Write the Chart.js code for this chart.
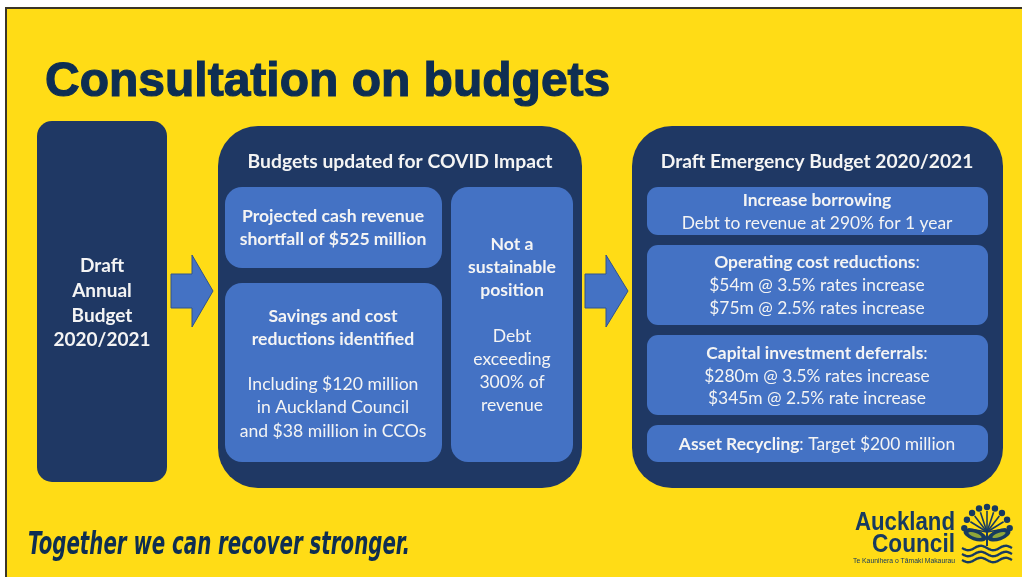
<!DOCTYPE html>
<html>
<head>
<meta charset="utf-8">
<script src="https://cdn.jsdelivr.net/npm/chart.js@4.4.1/dist/chart.umd.min.js"></script>
<style>
  html, body { margin: 0; padding: 0; background: #ffffff; }
  #wrap { width: 1022px; height: 577px; position: relative; }
</style>
</head>
<body>
<div id="wrap"><canvas id="c" width="1022" height="577"></canvas></div>
<script>
// ---------- content (text only) ----------
const slideTitle = "Consultation on budgets";
const leftBoxLines = ["Draft", "Annual", "Budget", "2020/2021"];
const middleTitle = "Budgets updated for COVID Impact";
const shortfallLines = ["**Projected cash revenue**", "**shortfall of $525 million**"];
const savingsLines = ["**Savings and cost**", "**reductions identified**", "Including $120 million", "in Auckland Council", "and $38 million in CCOs"];
const positionLines = ["**Not a**", "**sustainable**", "**position**", "Debt", "exceeding", "300% of", "revenue"];
const rightTitle = "Draft Emergency Budget 2020/2021";
const borrowingLines = ["**Increase borrowing**", "Debt to revenue at 290% for 1 year"];
const operatingLines = ["**Operating cost reductions**:", "$54m @ 3.5% rates increase", "$75m @ 2.5% rates increase"];
const capitalLines = ["**Capital investment deferrals**:", "$280m @ 3.5% rates increase", "$345m @ 2.5% rate increase"];
const assetLines = ["**Asset Recycling**: Target $200 million"];
const footerText = "Together we can recover stronger.";
const logoLines = ["Auckland", "Council"];
const logoSubtitle = "Te Kaunihera o Tāmaki Makaurau";

// ---------- layout & style ----------
const C = {
  yellow: "#FFDC16", navy: "#1F3864", blue: "#4472C4", arrowEdge: "#2F528F",
  white: "#F4F4F4", titleInk: "#0E2E52", logoInk: "#173A60"
};
const FONT = "Lato";

const boxes = [
  { x0: 37, y0: 121, x1: 167, y1: 482, r: 15, fill: C.navy },
  { x0: 218, y0: 126, x1: 582, y1: 488, r: 40, fill: C.navy },
  { x0: 632, y0: 126, x1: 1003, y1: 488, r: 40, fill: C.navy },
  { x0: 225, y0: 187, x1: 442, y1: 268, r: 17, fill: C.blue },
  { x0: 225, y0: 283, x1: 442, y1: 462, r: 17, fill: C.blue },
  { x0: 451, y0: 187, x1: 573, y1: 462, r: 17, fill: C.blue },
  { x0: 647, y0: 187, x1: 988, y1: 235, r: 11, fill: C.blue },
  { x0: 647, y0: 245, x1: 988, y1: 325, r: 11, fill: C.blue },
  { x0: 647, y0: 335, x1: 988, y1: 415, r: 11, fill: C.blue },
  { x0: 647, y0: 425, x1: 988, y1: 462, r: 11, fill: C.blue }
];
const arrows = [
  { x0: 171, xh: 192, x1: 213, cy: 291 },
  { x0: 585, xh: 606, x1: 628, cy: 291 }
];
const textBlocks = [
  { lines: leftBoxLines, cx: 102, y: [272, 297, 322, 346], size: 19, bold: true },
  { lines: [middleTitle], cx: 400, y: [168], size: 19.3, bold: true },
  { lines: shortfallLines, cx: 333, y: [222, 245], size: 17.6 },
  { lines: savingsLines, cx: 333, y: [322, 345, 390, 413, 437], size: 17.6 },
  { lines: positionLines, cx: 512, y: [250, 273, 296, 342, 365, 388, 411], size: 17.6 },
  { lines: [rightTitle], cx: 817, y: [168], size: 19.2, bold: true },
  { lines: borrowingLines, cx: 817, y: [206, 229], size: 17.4 },
  { lines: operatingLines, cx: 817, y: [268, 291, 314], size: 17.4 },
  { lines: capitalLines, cx: 817, y: [359, 382, 404], size: 17.4 },
  { lines: assetLines, cx: 817, y: [450], size: 17.4 }
];

// ---------- drawing plugin (everything positioned through the chart scales) ----------
function parseSegs(line) {
  const parts = line.split("**");
  return parts.map((t, i) => ({ t, b: i % 2 === 1 })).filter(s => s.t.length);
}

const slidePlugin = {
  id: "slide",
  beforeDraw(chart) {
    const ctx = chart.ctx, xs = chart.scales.x, ys = chart.scales.y;
    const X = v => xs.getPixelForValue(v), Y = v => ys.getPixelForValue(v);
    ctx.save();
    // page & frame
    ctx.fillStyle = "#ffffff";
    ctx.fillRect(X(0), Y(0), X(1022) - X(0), Y(577) - Y(0));
    ctx.fillStyle = C.yellow;
    ctx.fillRect(X(6), Y(8), X(1022) - X(6), Y(577) - Y(8));
    ctx.strokeStyle = "#3b3526"; ctx.lineWidth = 2;
    ctx.beginPath(); ctx.moveTo(X(6), Y(577)); ctx.lineTo(X(6), Y(8)); ctx.lineTo(X(1022), Y(8)); ctx.stroke();

    // title
    ctx.fillStyle = C.titleInk; ctx.strokeStyle = C.titleInk; ctx.lineWidth = 1.2;
    ctx.font = "bold 48px 'Liberation Sans'";
    ctx.textBaseline = "alphabetic"; ctx.textAlign = "left";
    ctx.fillText(slideTitle, X(45), Y(96));
    ctx.strokeText(slideTitle, X(45), Y(96));

    // boxes
    boxes.forEach(b => {
      ctx.beginPath();
      ctx.roundRect(X(b.x0), Y(b.y0), X(b.x1) - X(b.x0), Y(b.y1) - Y(b.y0), b.r);
      ctx.fillStyle = b.fill; ctx.fill();
    });

    // arrows
    arrows.forEach(a => {
      ctx.beginPath();
      ctx.moveTo(X(a.x0), Y(a.cy - 17));
      ctx.lineTo(X(a.xh), Y(a.cy - 17));
      ctx.lineTo(X(a.xh), Y(a.cy - 36));
      ctx.lineTo(X(a.x1), Y(a.cy));
      ctx.lineTo(X(a.xh), Y(a.cy + 36));
      ctx.lineTo(X(a.xh), Y(a.cy + 17));
      ctx.lineTo(X(a.x0), Y(a.cy + 17));
      ctx.closePath();
      ctx.fillStyle = C.blue; ctx.fill();
      ctx.strokeStyle = C.arrowEdge; ctx.lineWidth = 1; ctx.stroke();
    });

    // texts
    ctx.fillStyle = C.white; ctx.textAlign = "left";
    textBlocks.forEach(tb => {
      tb.lines.forEach((line, i) => {
        const segs = parseSegs(tb.bold ? "**" + line.replace(/\*\*/g, "") + "**" : line);
        let w = 0;
        segs.forEach(s => { ctx.font = (s.b ? "bold " : "") + tb.size + "px " + FONT; s.w = ctx.measureText(s.t).width; w += s.w; });
        let x = X(tb.cx) - w / 2;
        segs.forEach(s => { ctx.font = (s.b ? "bold " : "") + tb.size + "px " + FONT; ctx.fillText(s.t, x, Y(tb.y[i])); x += s.w; });
      });
    });

    // footer slogan (script-like)
    ctx.fillStyle = C.titleInk;
    ctx.font = "italic bold 32px 'DejaVu Sans Condensed'";
    const fw = ctx.measureText(footerText).width;
    ctx.save();
    ctx.translate(X(28), Y(554));
    ctx.scale((X(410) - X(28)) / fw, 1);
    ctx.fillText(footerText, 0, 0);
    ctx.restore();

    // logo text
    ctx.fillStyle = C.logoInk; ctx.textAlign = "left";
    ctx.font = "bold 25px 'Liberation Sans'";
    [[logoLines[0], 855, 955, 530], [logoLines[1], 872, 955, 552]].forEach(([t, l, r, by]) => {
      const w = ctx.measureText(t).width;
      ctx.save(); ctx.translate(X(l), Y(by)); ctx.scale((X(r) - X(l)) / w, 1); ctx.fillText(t, 0, 0); ctx.restore();
    });
    ctx.font = "6.5px 'Liberation Sans'";
    const sw = ctx.measureText(logoSubtitle).width;
    ctx.save(); ctx.translate(X(853), Y(563)); ctx.scale((X(955) - X(853)) / sw, 1); ctx.fillText(logoSubtitle, 0, 0); ctx.restore();

    // logo emblem
    const cx = X(987), cy = Y(532);
    ctx.strokeStyle = C.logoInk; ctx.fillStyle = C.logoInk; ctx.lineWidth = 1.6;
    for (let k = 0; k < 9; k++) {
      const ang = Math.PI * (1.05 + 0.9 * k / 8);
      const ex = cx + Math.cos(ang) * 23, ey = cy + Math.sin(ang) * 25;
      ctx.beginPath(); ctx.moveTo(cx, cy); ctx.lineTo(cx + Math.cos(ang) * 19, cy + Math.sin(ang) * 21); ctx.stroke();
      ctx.beginPath(); ctx.arc(ex, ey, 3.2, 0, Math.PI * 2); ctx.fill();
    }
    ctx.beginPath(); ctx.moveTo(cx, cy); ctx.lineTo(cx, Y(546)); ctx.lineWidth = 2; ctx.stroke();
    [[-1], [1]].forEach(([s]) => {
      ctx.save(); ctx.translate(cx + s * 12, Y(535)); ctx.rotate(s * -0.35);
      ctx.beginPath(); ctx.ellipse(0, 0, 12, 5.5, 0, 0, Math.PI * 2); ctx.fillStyle = C.logoInk; ctx.fill();
      ctx.beginPath(); ctx.ellipse(0, 0, 7, 2, 0, 0, Math.PI * 2); ctx.fillStyle = "#8fa63a"; ctx.fill();
      ctx.restore();
    });
    ctx.strokeStyle = C.logoInk; ctx.lineWidth = 2.4;
    [548, 554, 560].forEach(wy => {
      ctx.beginPath();
      for (let t = 0; t <= 50; t++) {
        const px = X(962 + t), py = Y(wy) + Math.sin(t / 50 * Math.PI * 4) * 2.2;
        if (t === 0) ctx.moveTo(px, py); else ctx.lineTo(px, py);
      }
      ctx.stroke();
    });
    ctx.restore();
  }
};

new Chart(document.getElementById("c"), {
  type: "scatter",
  data: { datasets: [{ data: [], pointRadius: 0 }] },
  options: {
    responsive: false, animation: false, devicePixelRatio: 1,
    layout: { padding: 0 },
    scales: {
      x: { type: "linear", min: 0, max: 1022, display: false },
      y: { type: "linear", min: 0, max: 577, reverse: true, display: false }
    },
    plugins: { legend: { display: false }, tooltip: { enabled: false } }
  },
  plugins: [slidePlugin]
});
</script>
</body>
</html>
